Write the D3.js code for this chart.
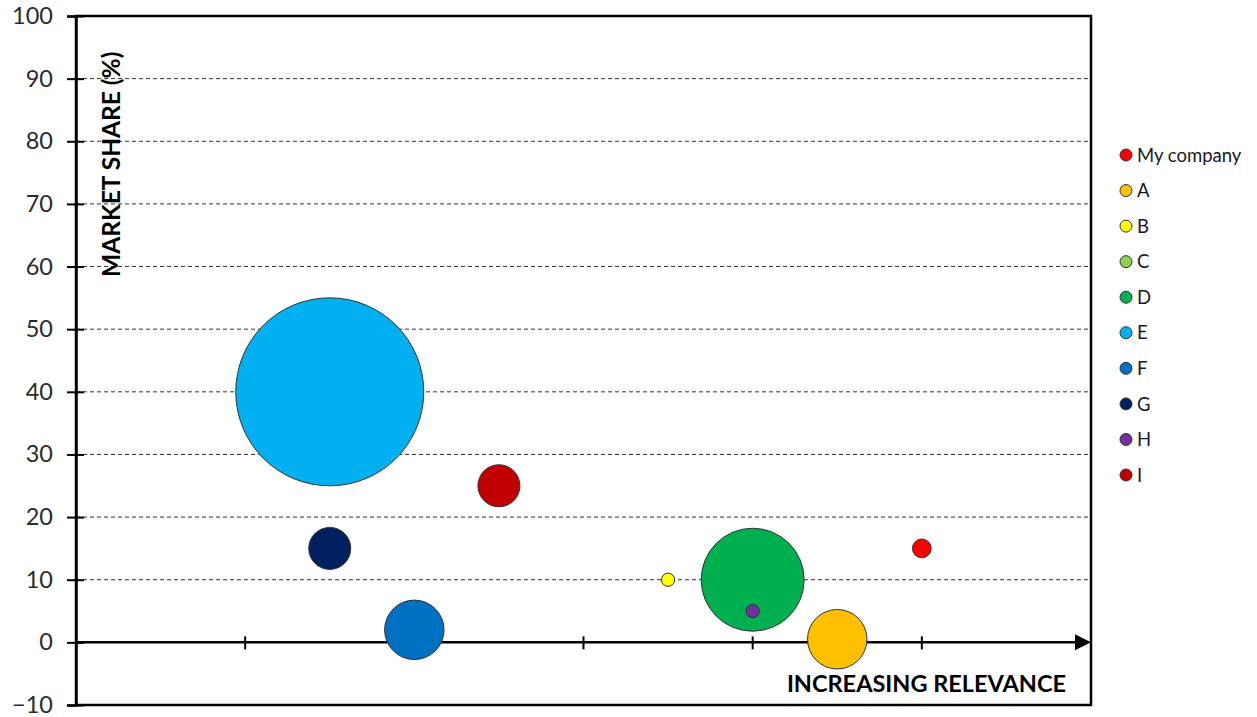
<!DOCTYPE html>
<html>
<head>
<meta charset="utf-8">
<script src="https://cdn.jsdelivr.net/npm/d3@7"></script>
<style>
  html, body { margin: 0; padding: 0; background: #fff; }
  svg { display: block; }
  text { font-family: Lato, "Open Sans", sans-serif; }
</style>
</head>
<body>
<svg id="chart" width="1257" height="717"></svg>
<script>
// ---- data ----
const categories = ["My company", "A", "B", "C", "D", "E", "F", "G", "H", "I"];
const relevance   = [5, 4.5, 3.5, null, 4, 1.5, 2, 1.5, 4, 2.5];
const marketShare = [15, 0.5, 10, null, 10, 40, 2, 15, 5, 25];
const bubbleSize  = [1, 10, 0.5, null, 30, 100, 10, 5, 0.5, 5];
const seriesColors = ["#FF0000", "#FFC000", "#FFFF00", "#92D050", "#00B050",
                      "#00B0F0", "#0070C0", "#002060", "#7030A0", "#C00000"];
const yTicks = [-10, 0, 10, 20, 30, 40, 50, 60, 70, 80, 90, 100];
const xTicks = [1, 2, 3, 4, 5];
const yTitle = "MARKET SHARE (%)";
const xTitle = "INCREASING RELEVANCE";

// ---- layout ----
const svg = d3.select("#chart");
const pL = 76, pR = 1091, pT = 16, pB = 705;

const x = d3.scaleLinear().domain([0, 6]).range([pL, pR]);
const y = d3.scaleLinear().domain([-10, 100]).range([pB, pT]);
const r = d3.scaleSqrt().domain([0, 100]).range([0, 94]);

// gridlines (dashed)
svg.append("g").selectAll("line")
  .data(yTicks.filter(t => t !== 0 && t !== 100 && t !== -10))
  .join("line")
  .attr("x1", pL).attr("x2", pR)
  .attr("y1", d => y(d)).attr("y2", d => y(d))
  .attr("stroke", "#333").attr("stroke-width", 1)
  .attr("stroke-dasharray", "4,3");

// plot border
svg.append("rect")
  .attr("x", pL).attr("y", pT)
  .attr("width", pR - pL).attr("height", pB - pT)
  .attr("fill", "none").attr("stroke", "#000").attr("stroke-width", 2.5);

// y axis
const yAxis = svg.append("g")
  .attr("transform", `translate(${pL},0)`)
  .call(d3.axisLeft(y).tickValues(yTicks).tickSize(9).tickPadding(14));
yAxis.select(".domain").attr("stroke", "#000").attr("stroke-width", 2.5);
yAxis.selectAll(".tick line").attr("x1", -9).attr("x2", 8)
  .attr("stroke", "#000").attr("stroke-width", 2);
yAxis.selectAll(".tick text")
  .attr("font-size", 23.5).attr("fill", "#2b2b2b")
  .style("font-family", "Lato, 'Open Sans', sans-serif");

// x axis line at y = 0 with arrow
const xAxisG = svg.append("g");
xAxisG.append("line")
  .attr("x1", pL).attr("x2", x(6) - 12)
  .attr("y1", y(0)).attr("y2", y(0))
  .attr("stroke", "#000").attr("stroke-width", 2.5);
xAxisG.append("path")
  .attr("d", `M${x(6) - 16},${y(0) - 8} L${x(6)},${y(0)} L${x(6) - 16},${y(0) + 8} Z`)
  .attr("fill", "#000");
xAxisG.selectAll("line.xt")
  .data(xTicks).join("line").attr("class", "xt")
  .attr("x1", d => x(d)).attr("x2", d => x(d))
  .attr("y1", y(0) - 6).attr("y2", y(0) + 7)
  .attr("stroke", "#000").attr("stroke-width", 2);

// bubbles
const data = categories.map((c, i) => ({
  name: c, x: relevance[i], y: marketShare[i], s: bubbleSize[i], color: seriesColors[i]
}));
svg.append("g").selectAll("circle")
  .data(data.filter(d => d.s != null))
  .join("circle")
  .attr("cx", d => x(d.x))
  .attr("cy", d => y(d.y))
  .attr("r", d => r(d.s))
  .attr("fill", d => d.color)
  .attr("stroke", "#333").attr("stroke-width", 1);

// axis titles
svg.append("text")
  .attr("transform", `translate(${120},${277}) rotate(-90)`)
  .attr("text-anchor", "start")
  .attr("font-size", 24.5).attr("font-weight", "bold").attr("fill", "#000")
  .text(yTitle);

svg.append("text")
  .attr("x", 1066).attr("y", 692)
  .attr("text-anchor", "end")
  .attr("font-size", 23.5).attr("font-weight", "bold").attr("fill", "#000")
  .text(xTitle);

// legend
const legend = svg.append("g");
const legendY = d3.scaleLinear().domain([0, categories.length - 1]).range([155, 475]);
const items = legend.selectAll("g").data(data).join("g")
  .attr("transform", (d, i) => `translate(1126,${legendY(i)})`);
items.append("circle").attr("r", 6)
  .attr("fill", d => d.color).attr("stroke", "#333").attr("stroke-width", 1);
items.append("text")
  .attr("x", 11).attr("dy", "0.36em")
  .attr("font-size", 18.5).attr("fill", "#1a1a1a")
  .text(d => d.name);
</script>
</body>
</html>
